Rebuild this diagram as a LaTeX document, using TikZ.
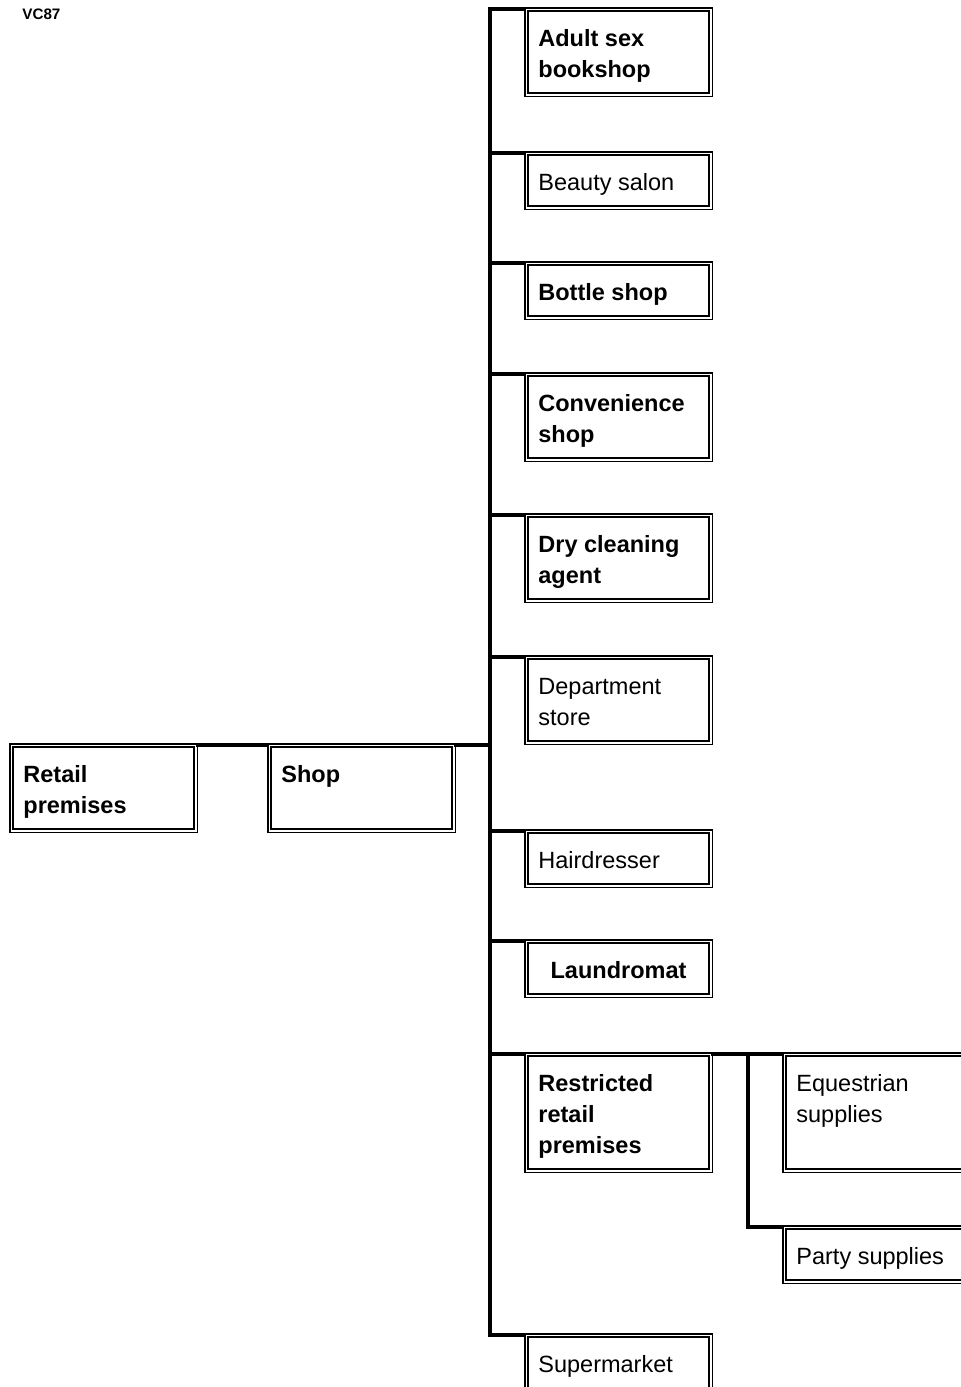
\documentclass[tikz,border=0pt]{standalone}
\usepackage{fontspec}
\setmainfont{Liberation Sans}
\usetikzlibrary{positioning}

\tikzset{
  box/.style={draw,double,line width=0.75pt,double distance=0.9pt,
    anchor=north west,inner sep=0pt,outer sep=0pt,minimum width=92.1pt},
  boxA/.style={box,minimum height=27.1pt},
  boxB/.style={box,minimum height=42.6pt},
  boxC/.style={box,minimum height=58.1pt},
  txt/.style={font=\fontsize{11.75}{15.5}\selectfont,align=left,inner sep=0pt,anchor=base west},
  txtb/.style={txt,font=\bfseries\fontsize{11.75}{15.5}\selectfont},
  conn/.style={line width=2pt}
}

\begin{document}
\begin{tikzpicture}[x=0.5pt,y=-0.5pt]
\useasboundingbox (0,0) rectangle (960,1387);

\node[font=\bfseries\fontsize{7.6}{9}\selectfont,anchor=base west,inner sep=0pt] (code) at (22,19) {VC87};

% left part
\node[boxB] (retail) at (11.4,745.4) {};
\node[boxB] (shop) at (269.4,745.4) {};

% shop types
\node[boxB] (adult) at (526.4,9.4) {};
\node[boxA] (beauty) at (526.4,153.4) {};
\node[boxA] (bottle) at (526.4,263.4) {};
\node[boxB] (conv) at (526.4,374.4) {};
\node[boxB] (dry) at (526.4,515.4) {};
\node[boxB] (dept) at (526.4,657.4) {};
\node[boxA] (hair) at (526.4,831.4) {};
\node[boxA] (laund) at (526.4,941.4) {};
\node[boxC] (restr) at (526.4,1054.4) {};
\node[boxB] (super) at (526.4,1335.4) {};

% restricted retail premises
\node[boxC] (equest) at (784.4,1054.4) {};
\node[boxA] (party) at (784.4,1227.4) {};

% texts (base = last line)
\node[txtb] (retail-t) at ([shift={(11.6,68)}]retail.north west) {Retail\\premises};
\node[txtb] (shop-t) at ([shift={(11.6,37)}]shop.north west) {Shop};
\node[txtb] (adult-t) at ([shift={(11.6,68)}]adult.north west) {Adult sex\\bookshop};
\node[txt] (beauty-t) at ([shift={(11.6,37)}]beauty.north west) {Beauty salon};
\node[txtb] (bottle-t) at ([shift={(11.6,37)}]bottle.north west) {Bottle shop};
\node[txtb] (conv-t) at ([shift={(11.6,68)}]conv.north west) {Convenience\\shop};
\node[txtb] (dry-t) at ([shift={(11.6,68)}]dry.north west) {Dry cleaning\\agent};
\node[txt] (dept-t) at ([shift={(11.6,68)}]dept.north west) {Department\\store};
\node[txt] (hair-t) at ([shift={(11.6,37)}]hair.north west) {Hairdresser};
\node[txtb,anchor=base] (laund-t) at ([shift={(0,37)}]laund.north) {Laundromat};
\node[txtb] (restr-t) at ([shift={(11.6,99)}]restr.north west) {Restricted\\retail\\premises};
\node[txt] (super-t) at ([shift={(11.6,37)}]super.north west) {Supermarket};
\node[txt] (equest-t) at ([shift={(11.6,68)}]equest.north west) {Equestrian\\supplies};
\node[txt] (party-t) at ([shift={(11.6,37)}]party.north west) {Party supplies};

% connectors
\coordinate (trunk) at (490,0);
\coordinate (subtrunk) at (748,0);
\draw[conn] (retail.north east) -- (shop.north west);
\draw[conn] (shop.north east) -- (shop.north east -| trunk);
\draw[conn] (adult.north west) -- (adult.north west -| trunk) -- (super.north west -| trunk) -- (super.north west);
\foreach \b in {beauty,bottle,conv,dry,dept,hair,laund,restr}
  \draw[conn] (\b.north west -| trunk) -- (\b.north west);
\draw[conn] (restr.north east) -- (equest.north west);
\draw[conn] (restr.north east -| subtrunk) -- (party.north west -| subtrunk) -- (party.north west);

\end{tikzpicture}
\end{document}
